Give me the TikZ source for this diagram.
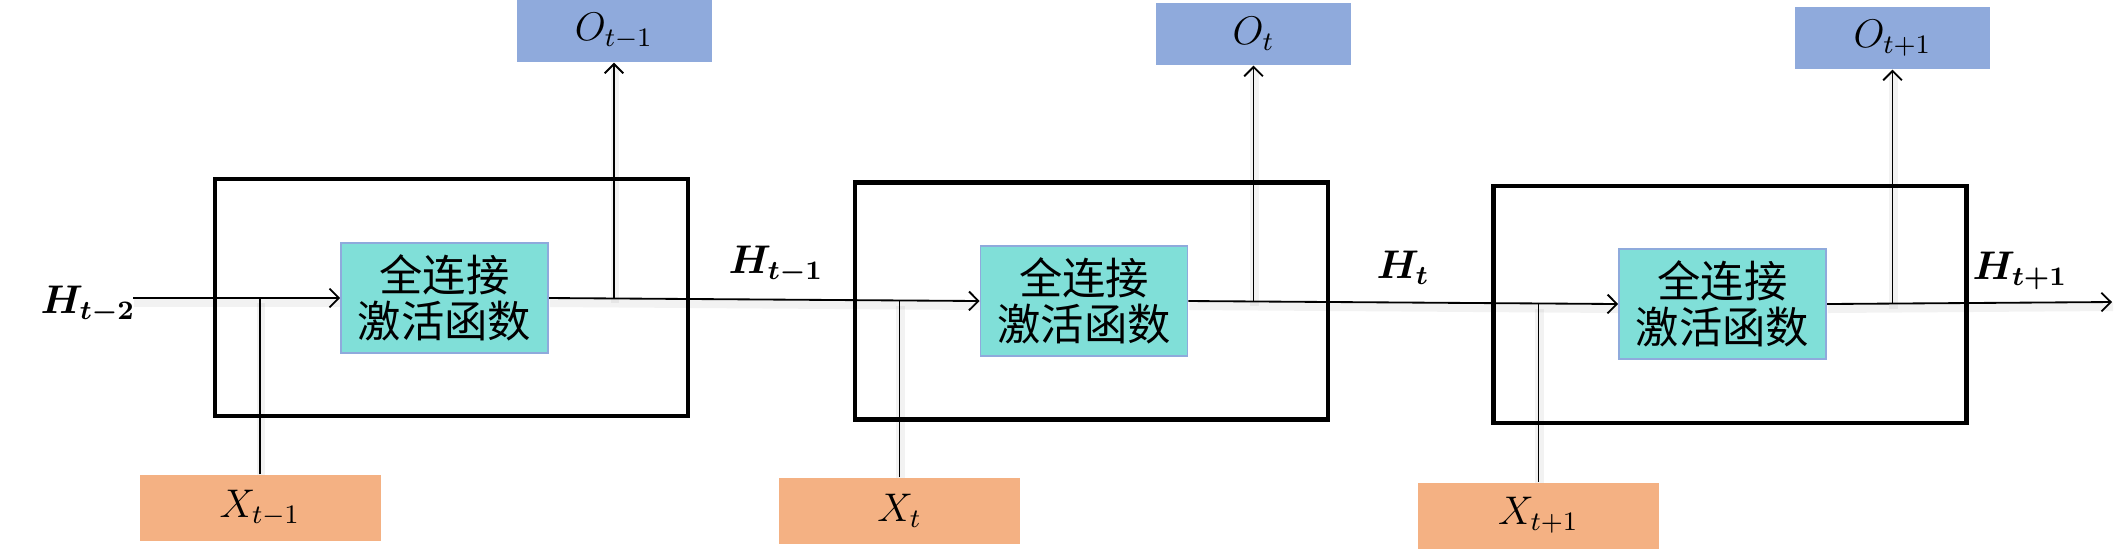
\documentclass[tikz,border=0pt]{standalone}
\usepackage{amsmath,bm}
\usepackage{fontspec}
\newfontfamily\cjk{Noto Sans CJK SC}
\usetikzlibrary{arrows.meta,backgrounds}
\definecolor{oblue}{HTML}{8FAADC}
\definecolor{xorange}{HTML}{F4B183}
\definecolor{cellcyan}{HTML}{80DFD8}
\definecolor{cellborder}{HTML}{8FAADC}
\begin{document}
\begin{tikzpicture}[x=0.3pt,y=-0.3pt,
  outer/.style={draw=black, line width=1.4pt, minimum width=141.9pt, minimum height=71.1pt, inner sep=0pt},
  cell/.style={draw=cellborder, line width=0.5pt, fill=cellcyan, minimum width=62.1pt, minimum height=33pt, inner sep=0pt, align=center, font=\cjk\fontsize{13}{13.8}\selectfont},
  obox/.style={fill=oblue, minimum width=58.5pt, minimum height=18.6pt, inner sep=0pt, font=\fontsize{12}{14}\selectfont},
  xbox/.style={fill=xorange, minimum width=72.3pt, minimum height=19.8pt, inner sep=0pt, font=\fontsize{12}{14}\selectfont},
  hlabel/.style={font=\fontsize{12}{14}\selectfont, inner sep=0pt},
  conn/.style={line width=0.55pt, preaction={draw, -, black, opacity=0.05, line width=2.6pt, transform canvas={shift={(0.3pt,-1.4pt)}}}},
  arr/.style={conn, -{Straight Barb[length=2.8pt,width=5.6pt,line width=0.55pt]}}
]
\useasboundingbox (0,0) rectangle (2125,549);

% outer cell frames
\node[outer] (b1) at (451.5,297.5) {};
\node[outer] (b2) at (1091.5,301) {};
\node[outer] (b3) at (1730,304.5) {};

% inner function boxes
\node[cell] (c1) at (444.5,298) {全连接\\激活函数};
\node[cell] (c2) at (1084,301) {全连接\\激活函数};
\node[cell] (c3) at (1722.5,304) {全连接\\激活函数};

% outputs
\node[obox] (o1) at (614,31) {$O_{t-1}$};
\node[obox] (o2) at (1253.5,34) {$O_{t}$};
\node[obox] (o3) at (1892.5,38) {$O_{t+1}$};

% inputs
\node[xbox] (x1) at (260,508) {$X_{t-1}$};
\node[xbox] (x2) at (899.5,511) {$X_{t}$};
\node[xbox] (x3) at (1538.5,515.5) {$X_{t+1}$};

% hidden state labels
\node[hlabel] (h0) at (88,305) {$\bm{H}_{\bm{t-2}}$};
\node[hlabel] (h1) at (776,265) {$\bm{H}_{\bm{t-1}}$};
\node[hlabel] (h2) at (1403,268) {$\bm{H}_{\bm{t}}$};
\node[hlabel] (h3) at (2020,271) {$\bm{H}_{\bm{t+1}}$};

\coordinate (start) at (133,298);
\coordinate (end) at (2112,302);

\begin{pgfonlayer}{background}
% hidden-state chain
\draw[arr] (start) -- (c1.west);
\draw[arr] (c1.east) -- (c2.west);
\draw[arr] (c2.east) -- (c3.west);
\draw[arr] (c3.east) -- (end);

% inputs joining the chain
\draw[conn] (x1.north) -- (x1.north |- c1.west);
\draw[conn] (x2.north) -- (x2.north |- c2.west);
\draw[conn] (x3.north) -- (x3.north |- c3.west);

% outputs
\draw[arr] (o1.south |- c1.east) -- (o1.south);
\draw[arr] (o2.south |- c2.east) -- (o2.south);
\draw[arr] (o3.south |- c3.east) -- (o3.south);
\end{pgfonlayer}
\end{tikzpicture}
\end{document}
